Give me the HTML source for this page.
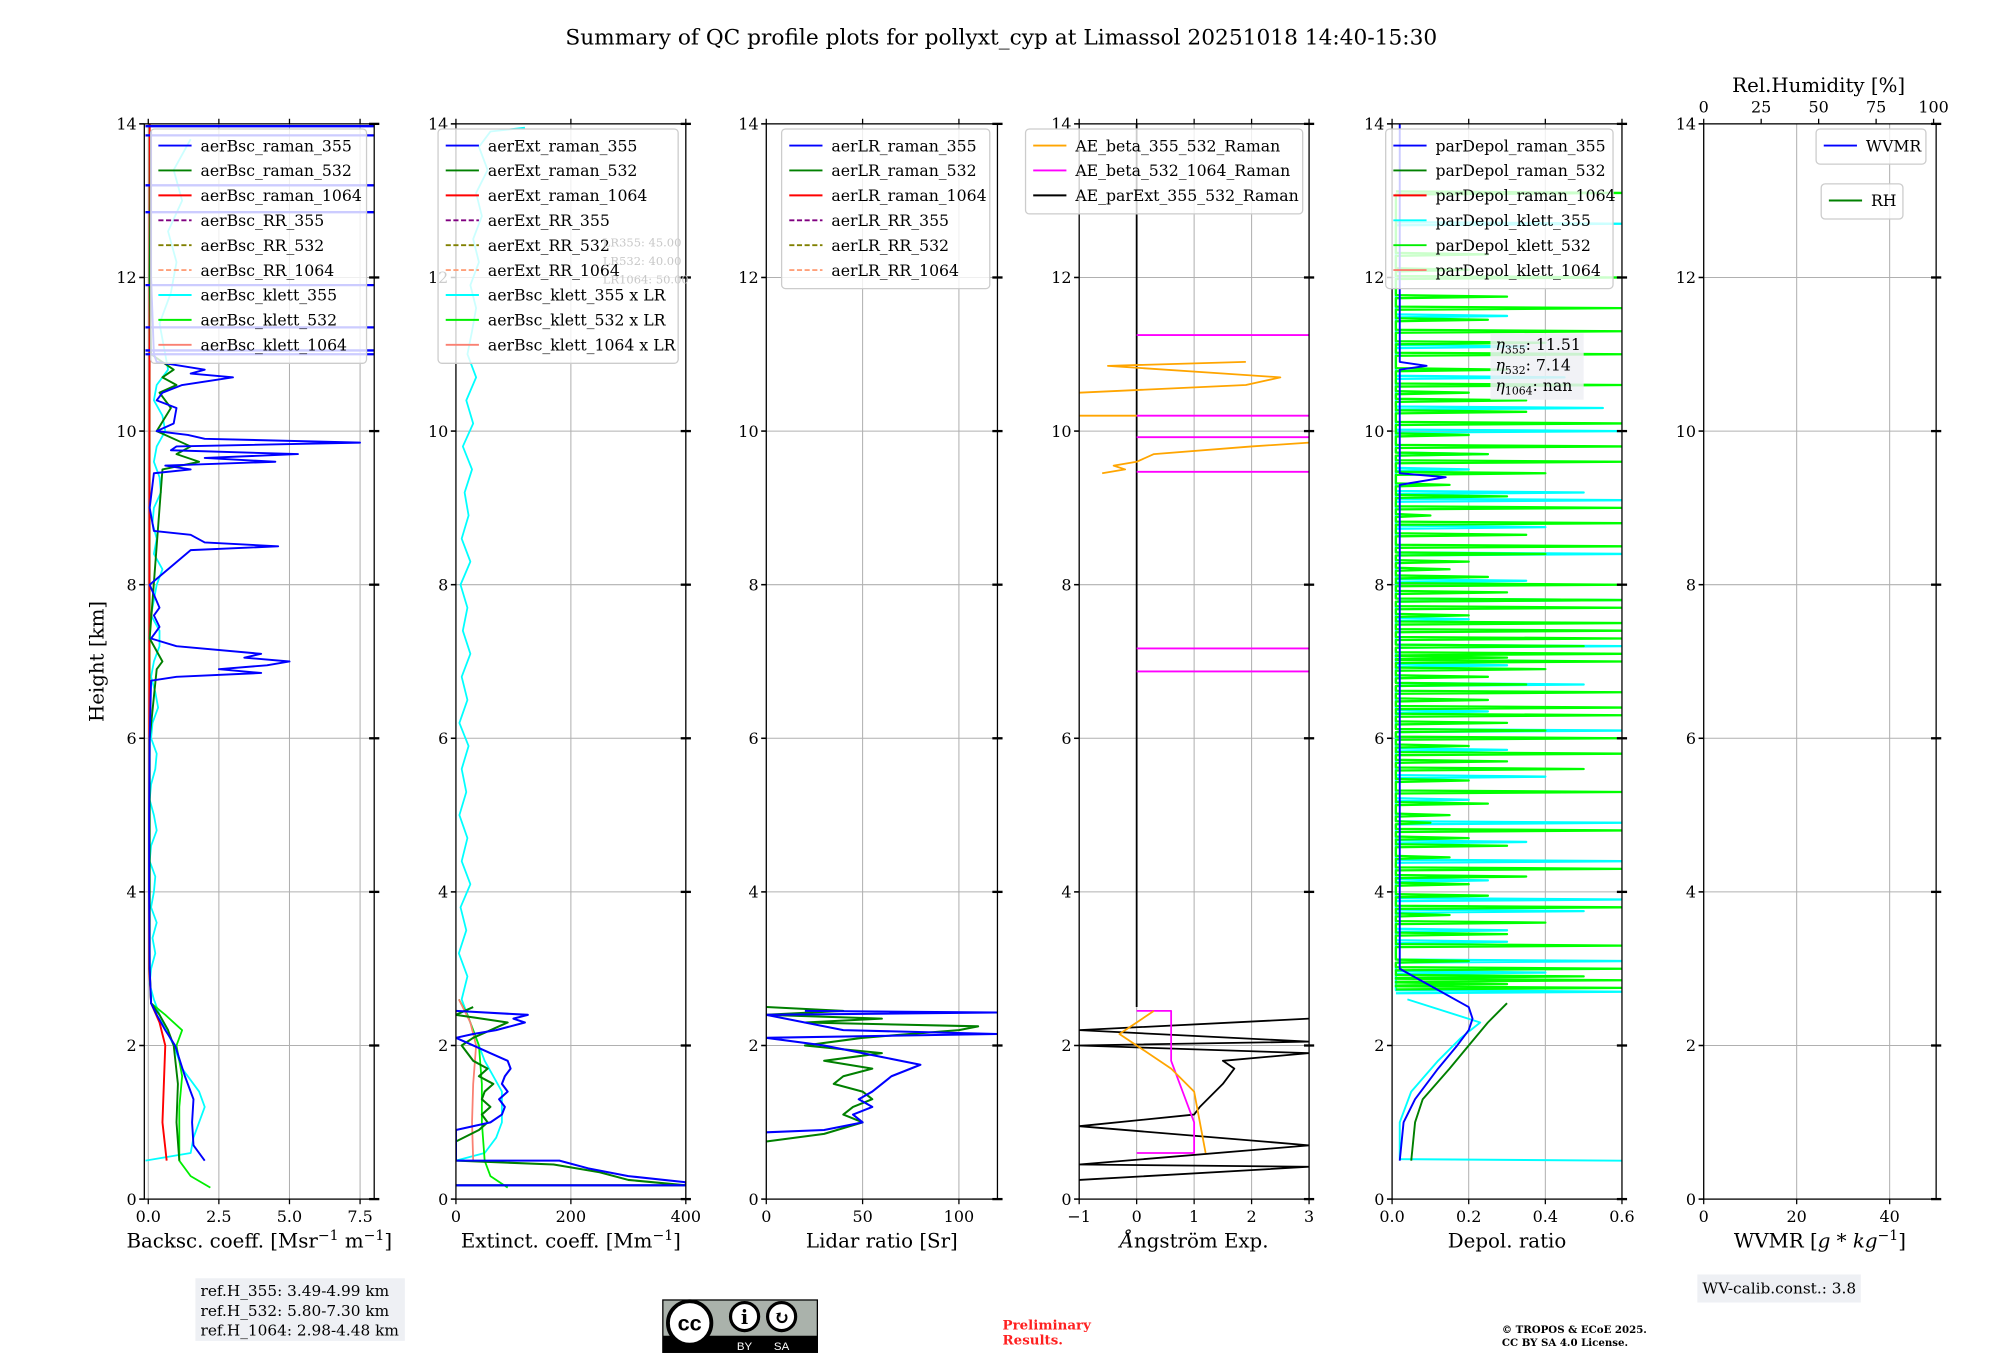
<!DOCTYPE html>
<html><head><meta charset="utf-8"><style>
html,body{margin:0;padding:0;background:#fff;}
svg{display:block;font-family:"DejaVu Serif","Liberation Serif",serif;}
</style></head><body>
<svg id="fig" width="2000" height="1360" viewBox="0 0 1566 1065" preserveAspectRatio="none" xmlns="http://www.w3.org/2000/svg">
<rect x="0" y="0" width="1566" height="1065" fill="#fff"/>
<text x="784" y="35" font-size="17" text-anchor="middle">Summary of QC profile plots for pollyxt_cyp at Limassol 20251018 14:40-15:30</text>
<g id="plots"></g>
<g id="overlay"></g>
</svg>
<script>
// ===== Data arrays =====
const heightTicks=[0,2,4,6,8,10,12,14];
// Panel 1: backscatter
const bscTicks=[0,2.5,5,7.5];
const bscTickLabels=["0.0","2.5","5.0","7.5"];
const bsc355H=[0.5,0.7,1.0,1.3,1.6,2.0,2.2,2.4,2.55,3,4,5,6,6.75,6.8,6.85,6.9,6.95,7.0,7.05,7.1,7.2,7.3,7.45,7.6,7.7,8,8.45,8.5,8.55,8.65,8.7,9,9.45,9.5,9.55,9.6,9.65,9.7,9.75,9.8,9.85,9.9,9.95,10.0,10.1,10.3,10.4,10.5,10.6,10.7,10.75,10.8,10.9,11,12,13,13.9];
const bsc355V=[2.0,1.6,1.55,1.6,1.3,0.95,0.6,0.3,0.1,0.05,0.03,0.03,0.05,0.1,1.0,4.0,2.5,4.2,5.0,3.4,4.0,1.0,0.1,0.4,0.2,0.4,0.05,1.5,4.6,2.0,1.5,0.2,0.05,0.2,1.5,0.6,4.5,2.0,5.3,0.8,1.0,7.5,2.0,1.4,0.3,0.9,1.0,0.3,0.5,1.2,3.0,1.5,2.0,0.3,0.2,0.1,0.1,0.1];
const bsc355Lines=[13.97,13.85,13.2,12.85,11.9,11.35,11.05,11.0];
const bsc532H=[0.5,1.0,1.5,2.0,2.2,2.4,2.55,3,6,6.9,7.0,7.3,9.5,9.6,9.7,9.8,10.0,10.3,10.5,10.6,10.7,10.8,11,12,13.9];
const bsc532V=[1.1,1.0,1.05,0.9,0.7,0.4,0.1,0.05,0.05,0.3,0.5,0.05,0.5,1.8,1.0,1.5,0.3,0.8,0.4,1.0,0.5,0.9,0.1,0.05,0.1];
const bsc1064H=[0.5,1.0,1.5,2.0,2.3,2.55,3,14];
const bsc1064V=[0.65,0.5,0.55,0.6,0.4,0.1,0.03,0.05];
const bscK355H=[0.5,0.6,0.8,1.2,1.4,1.7,2.0,2.3,2.6,2.8,3.0,3.2,3.4,3.6,3.8,4.0,4.2,4.4,4.6,4.8,5.0,5.2,5.4,5.6,5.8,6.0,6.2,6.4,6.6,6.8,7.0,7.2,7.4,7.6,7.8,8.0,8.2,8.4,8.6,8.8,9.0,9.2,9.4,9.6,9.8,10.0,10.2,10.4,10.6,10.8,11.0,11.4,11.8,12.2,12.6,13.0,13.4,13.8];
const bscK355V=[-0.1,1.5,1.6,2.0,1.8,1.2,0.9,0.5,0.2,0.05,0.1,0.25,0.15,0.3,0.1,0.2,0.25,0.05,0.1,0.3,0.2,0.05,0.1,0.25,0.3,0.1,0.15,0.35,0.25,0.1,0.2,0.4,0.4,0.1,0.2,0.3,0.5,0.2,0.3,0.15,0.2,0.45,0.4,0.2,0.3,0.6,0.5,0.2,0.3,0.7,0.6,0.4,0.8,1.0,0.7,1.2,0.9,1.5];
const bscK532H=[0.15,0.3,0.5,0.8,1.2,1.6,2.0,2.2,2.4,2.55,3,14];
const bscK532V=[2.2,1.5,1.1,1.1,1.1,1.2,1.0,1.2,0.6,0.1,0.05,0.05];
// Panel 2: extinction
const extTicks=[0,200,400];
const ext355H=[0.18,0.18,0.22,0.3,0.4,0.5,0.5,0.9,1.0,1.1,1.2,1.3,1.4,1.5,1.6,1.7,1.8,1.9,2.0,2.1,2.15,2.2,2.3,2.35,2.4,2.45];
const ext355V=[0,400,400,300,230,180,0,0,60,80,85,75,90,80,85,95,90,60,30,0,30,70,120,100,125,0];
const ext532H=[0.18,0.18,0.25,0.35,0.45,0.5,0.75,0.9,1.0,1.1,1.2,1.3,1.4,1.5,1.6,1.7,1.8,2.0,2.1,2.2,2.3,2.4,2.5];
const ext532V=[0,400,300,250,170,0,0,40,55,45,60,45,50,65,40,55,30,10,30,60,90,0,30];
const extK355H=[0.5,0.6,0.8,1.0,1.4,1.8,2.2,2.6,2.9,3.2,3.5,3.8,4.1,4.4,4.7,5.0,5.3,5.6,5.9,6.2,6.5,6.8,7.1,7.4,7.7,8.0,8.3,8.6,8.9,9.2,9.5,9.8,10.1,10.4,10.7,11.0,11.3,11.6,11.9,12.2,12.5,12.8,13.1,13.4,13.7,13.9,13.95];
const extK355V=[0,50,70,80,80,50,30,10,20,5,18,8,25,10,20,6,18,10,22,6,20,10,25,12,20,8,25,10,22,15,28,12,30,18,35,20,28,35,25,40,30,45,35,55,40,60,120];
const extK532H=[0.15,0.3,0.5,1.0,1.5,2.0,2.4,2.6];
const extK532V=[90,60,50,45,45,40,20,5];
const extK1064H=[0.5,1.0,1.5,2.0,2.3,2.6];
const extK1064V=[30,28,30,35,25,5];
// Panel 3: lidar ratio
const lrTicks=[0,50,100];
const lr355H=[0.87,0.9,1.0,1.1,1.2,1.3,1.4,1.5,1.6,1.75,1.85,2.0,2.1,2.15,2.2,2.3,2.4,2.43,2.45];
const lr355V=[0,30,50,45,55,48,55,60,65,80,60,30,0,120,40,20,0,120,20];
const lr532H=[0.75,0.85,1.0,1.1,1.2,1.3,1.4,1.5,1.6,1.7,1.8,1.9,2.0,2.1,2.2,2.25,2.3,2.35,2.4,2.45,2.5];
const lr532V=[0,30,50,40,45,55,50,35,40,55,30,60,20,50,100,110,20,60,0,40,0];
// Panel 4: Angstrom
const aeTicks=[-1,0,1,2,3];
const ae355H=[0.6,1.0,1.4,1.7,2.0,2.15,2.3,2.45];
const ae355V=[1.2,1.1,1.0,0.6,0.0,-0.3,0.0,0.3];
const ae355UpH=[9.45,9.5,9.55,9.6,9.7,9.8,9.85];
const ae355UpV=[-0.6,-0.2,-0.4,0,0.3,2.0,3.0];
const ae355Up2H=[10.5,10.6,10.7,10.75,10.85,10.9];
const ae355Up2V=[-1,1.9,2.5,1.5,-0.5,1.9];
const ae532H=[0.6,0.6,1.0,1.4,1.8,2.45,2.45];
const ae532V=[0,1.0,1.0,0.8,0.6,0.6,0];
const ae532Lines=[6.87,7.17,9.47,9.92,10.2,11.25];
const aeExtH=[0.25,0.42,0.45,0.7,0.95,1.1,1.2,1.5,1.7,1.8,1.9,2.0,2.05,2.2,2.35];
const aeExtV=[-1,3,-1,3,-1,1,1.1,1.5,1.7,1.5,3,-1,3,-1,3];
// Panel 5: depolarization
const depTicks=[0,0.2,0.4,0.6];
const depTickLabels=["0.0","0.2","0.4","0.6"];
const dep355H=[0.5,1.0,1.3,1.7,2.0,2.2,2.35,2.5,3,6,9.3,9.4,9.45,10.8,10.85,10.9,12,14];
const dep355V=[0.02,0.03,0.06,0.12,0.17,0.2,0.21,0.2,0.02,0.02,0.02,0.14,0.02,0.02,0.09,0.02,0.02,0.02];
const dep532H=[0.5,1.0,1.3,1.7,2.0,2.3,2.55];
const dep532V=[0.05,0.06,0.08,0.15,0.2,0.25,0.3];
const depK355H=[0.5,0.52,0.55,1.0,1.4,1.8,2.1,2.3,2.6];
const depK355V=[0.6,0.02,0.02,0.02,0.05,0.12,0.18,0.23,0.04];
const spikeGreenH=[2.75,2.8,2.85,2.9,3.0,3.1,3.3,3.45,3.6,3.7,3.8,3.95,4.1,4.2,4.3,4.45,4.6,4.7,4.8,4.9,5.0,5.15,5.3,5.45,5.6,5.7,5.8,5.9,6.0,6.1,6.2,6.3,6.4,6.5,6.6,6.7,6.8,6.9,7.0,7.05,7.1,7.2,7.3,7.4,7.5,7.6,7.7,7.8,7.9,8.0,8.1,8.2,8.3,8.4,8.5,8.65,8.8,8.9,9.0,9.15,9.3,9.45,9.6,9.7,9.8,9.95,10.1,10.25,10.4,10.5,10.6,10.8,11.0,11.15,11.3,11.45,11.6,11.75,12.0,12.1,12.3,13.1];
const spikeGreenV=[0.6,0.3,0.6,0.5,0.6,0.2,0.6,0.3,0.4,0.15,0.6,0.25,0.2,0.35,0.6,0.15,0.3,0.2,0.6,0.1,0.15,0.25,0.6,0.2,0.5,0.3,0.6,0.2,0.6,0.4,0.3,0.6,0.6,0.25,0.6,0.35,0.25,0.4,0.6,0.3,0.6,0.5,0.6,0.6,0.6,0.2,0.6,0.6,0.3,0.6,0.25,0.15,0.2,0.4,0.6,0.35,0.6,0.1,0.6,0.3,0.15,0.4,0.6,0.25,0.6,0.2,0.6,0.35,0.35,0.2,0.6,0.3,0.6,0.4,0.6,0.25,0.6,0.3,0.6,0.2,0.25,0.6];
const spikeCyanH=[2.7,2.95,3.1,3.35,3.5,3.75,3.9,4.15,4.4,4.65,4.9,5.2,5.5,5.85,6.1,6.35,6.7,6.95,7.2,7.55,7.8,8.05,8.4,8.75,9.1,9.2,9.5,9.7,10.0,10.3,10.7,11.1,11.5,12.7];
const spikeCyanV=[0.6,0.4,0.6,0.3,0.3,0.5,0.6,0.25,0.6,0.35,0.6,0.2,0.4,0.3,0.6,0.25,0.5,0.3,0.6,0.2,0.6,0.35,0.6,0.4,0.6,0.5,0.2,0.25,0.6,0.55,0.45,0.35,0.3,0.6];
// Panel 6
const wvTicks=[0,20,40];
const rhTicks=[0,25,50,75,100];

// ===== Layout =====
const Y0=939,Y14=97;
function yH(h){return Y0-(Y0-Y14)*h/14;}
const panels=[
 {x0:113,x1:293,min:-0.14,max:8.0},
 {x0:357,x1:537,min:0,max:400},
 {x0:600,x1:781,min:0,max:120},
 {x0:845,x1:1025,min:-1,max:3},
 {x0:1090,x1:1270,min:0,max:0.6},
 {x0:1334,x1:1516,min:0,max:50}
];
function xf(p){return v=>p.x0+(p.x1-p.x0)*(v-p.min)/(p.max-p.min);}
const NS="http://www.w3.org/2000/svg";
const root=document.getElementById('plots');
function el(tag,attrs,parent){const e=document.createElementNS(NS,tag);for(const k in attrs)e.setAttribute(k,attrs[k]);(parent||root).appendChild(e);return e;}
function txt(s,attrs,parent){const e=el('text',attrs,parent);e.textContent=s;return e;}

function panel(i,ticks,labels,xlabel){
  const p=panels[i],X=xf(p);
  const g=el('g',{});
  
  
  ticks.forEach(t=>{const l=el('line',{x1:X(t),x2:X(t),y1:Y14,y2:Y0,stroke:'#b0b0b0','stroke-width':0.8},g);});
  heightTicks.forEach(h=>{const l=el('line',{x1:p.x0,x2:p.x1,y1:yH(h),y2:yH(h),stroke:'#b0b0b0','stroke-width':0.8},g);});
  const clip=el('clipPath',{id:'c'+i},g);
  el('rect',{x:p.x0,y:Y14,width:p.x1-p.x0,height:Y0-Y14},clip);
  const data=el('g',{'clip-path':'url(#c'+i+')'},g);
  
  
  const fr=el('rect',{x:p.x0,y:Y14,width:p.x1-p.x0,height:Y0-Y14,fill:'none',stroke:'#000','stroke-width':1},g);
  
  
  heightTicks.forEach(h=>{
    el('line',{x1:p.x0-4,x2:p.x0,y1:yH(h),y2:yH(h),stroke:'#000','stroke-width':1.2},g);
    el('line',{x1:p.x1-4,x2:p.x1+4,y1:yH(h),y2:yH(h),stroke:'#000','stroke-width':1.8},g);
    const t=txt(String(h),{x:p.x0-6,y:yH(h)+4.5,'font-size':12.5,'text-anchor':'end'},g);
    
    
  });
  ticks.forEach((t,k)=>{
    el('line',{x1:X(t),x2:X(t),y1:Y0,y2:Y0+4,stroke:'#000','stroke-width':1},g);
    if(i!==5) el('line',{x1:X(t),x2:X(t),y1:Y14-4,y2:Y14,stroke:'#000','stroke-width':1},g);
    const tl=txt(labels[k],{x:X(t),y:Y0+18,'font-size':12.5,'text-anchor':'middle'},g);
    
    
  });
  const xl=txt('',{x:(p.x0+p.x1)/2,y:977,'font-size':15.5,'text-anchor':'middle'},g);
  xl.innerHTML=xlabel;
  
  
  return {X,data};
}
function line(P,H,V,color,w,name,op){
  const pts=H.map((h,k)=>P.X(V[k]).toFixed(1)+','+yH(h).toFixed(1)).join(' ');
  const l=el('polyline',{points:pts,fill:'none',stroke:color,'stroke-width':w||1.5,'stroke-opacity':op||1,'stroke-linejoin':'round'},P.data);
  
  
}
function hlines(P,H,v0,v1,color,w,name){
  H.forEach(h=>{const l=el('line',{x1:P.X(v0),x2:P.X(v1),y1:yH(h),y2:yH(h),stroke:color,'stroke-width':w||1.5},P.data);
  
  });
}
function spikes(P,H,V,base,color,name){
  const hs=[],vs=[];
  H.forEach((h,k)=>{hs.push(h-0.02,h,h+0.02);vs.push(base,V[k],base);});
  line(P,hs,vs,color,1.8,name);
}

const P1=panel(0,bscTicks,bscTickLabels,'Backsc. coeff. [Msr<tspan dy="-6" font-size="11">−1</tspan><tspan dy="6"> m</tspan><tspan dy="-6" font-size="11">−1</tspan><tspan dy="6">]</tspan>');
line(P1,bscK355H,bscK355V,'#00ffff',1.4,'aerBsc-klett-355');
line(P1,bscK532H,bscK532V,'#00ee00',1.4,'aerBsc-klett-532');
line(P1,bsc1064H,bsc1064V,'#ff0000',1.5,'aerBsc-raman-1064');
line(P1,bsc532H,bsc532V,'#008000',1.5,'aerBsc-raman-532');
line(P1,bsc355H,bsc355V,'#0000ff',1.5,'aerBsc-raman-355');
hlines(P1,bsc355Lines,-0.1,8.0,'#0000ff',1.8,'aerBsc-raman-355-line');

const P2=panel(1,extTicks,extTicks.map(String),'Extinct. coeff. [Mm<tspan dy="-6" font-size="11">−1</tspan><tspan dy="6">]</tspan>');
line(P2,extK355H,extK355V,'#00ffff',1.4,'aerBsc-klett-355-x-lr');
line(P2,extK532H,extK532V,'#00ee00',1.4,'aerBsc-klett-532-x-lr');
line(P2,extK1064H,extK1064V,'#fa8072',1.4,'aerBsc-klett-1064-x-lr');
line(P2,ext532H,ext532V,'#008000',1.6,'aerExt-raman-532');
line(P2,ext355H,ext355V,'#0000ff',1.6,'aerExt-raman-355');

const P3=panel(2,lrTicks,lrTicks.map(String),'Lidar ratio [Sr]');
line(P3,lr532H,lr532V,'#008000',1.6,'aerLR-raman-532');
line(P3,lr355H,lr355V,'#0000ff',1.6,'aerLR-raman-355');

const P4=panel(3,aeTicks,['−1','0','1','2','3'],'<tspan font-style="italic">Å</tspan>ngström Exp.');
line(P4,[2.5,14],[0,0],'#000',1.4,'ae-parExt-vertical');
line(P4,aeExtH,aeExtV,'#000',1.4,'AE-parExt-355-532-raman');
line(P4,ae532H,ae532V,'#ff00ff',1.4,'AE-beta-532-1064-raman');
hlines(P4,ae532Lines,0,3,'#ff00ff',1.5,'AE-beta-532-1064-line');
line(P4,ae355H,ae355V,'#ffa500',1.4,'AE-beta-355-532-raman');
line(P4,ae355UpH,ae355UpV,'#ffa500',1.4,'AE-beta-355-532-raman-upper');
line(P4,ae355Up2H,ae355Up2V,'#ffa500',1.4,'AE-beta-355-532-raman-upper2');
hlines(P4,[10.2],-1,0,'#ffa500',1.5,'AE-beta-355-532-line');

const P5=panel(4,depTicks,depTickLabels,'Depol. ratio');
spikes(P5,spikeCyanH,spikeCyanV,0.01,'#00ffff','parDepol-klett-355-spikes');
spikes(P5,spikeGreenH,spikeGreenV,0.01,'#00ff00','parDepol-klett-532-spikes');
line(P5,depK355H,depK355V,'#00ffff',1.5,'parDepol-klett-355');
line(P5,dep532H,dep532V,'#008000',1.5,'parDepol-raman-532');
line(P5,dep355H,dep355V,'#0000ff',1.5,'parDepol-raman-355');

const P6=panel(5,wvTicks,wvTicks.map(String),'WVMR [<tspan font-style="italic">g</tspan> * <tspan font-style="italic">kg</tspan><tspan dy="-6" font-size="11">−1</tspan><tspan dy="6">]</tspan>');
rhTicks.forEach(t=>{const x=1334+(1514-1334)*t/100;
  el('line',{x1:x,x2:x,y1:Y14-4,y2:Y14,stroke:'#000','stroke-width':1});
  const tl=txt(String(t),{x:x,y:Y14-9,'font-size':12.5,'text-anchor':'middle'});
  
  });
const rht=txt('Rel.Humidity [%]',{x:1424,y:72,'font-size':15.5,'text-anchor':'middle'});


const yt=txt('Height [km]',{x:81,y:518,'font-size':15.5,'text-anchor':'middle',transform:'rotate(-90 81 518)'});



// ===== Legends =====
function legend(x,y,w,entries,name){
  const g=el('g',{});
  
  
  el('rect',{x:x,y:y,width:w,height:entries.length*19.5+8,rx:3,fill:'#fff','fill-opacity':0.8,stroke:'#ccc','stroke-width':1},g);
  entries.forEach((e,k)=>{const yy=y+13+k*19.5;
    const l=el('line',{x1:x+6,x2:x+32,y1:yy,y2:yy,stroke:e[1],'stroke-width':1.5},g);
    if(e[2])l.setAttribute('stroke-dasharray','4,2');
    const t=txt(e[0],{x:x+39,y:yy+4.5,'font-size':12.3},g);
    
    
  });
}
legend(118,101,169,[['aerBsc_raman_355','#0000ff'],['aerBsc_raman_532','#008000'],['aerBsc_raman_1064','#ff0000'],['aerBsc_RR_355','#800080',1],['aerBsc_RR_532','#808000',1],['aerBsc_RR_1064','#ffa07a',1],['aerBsc_klett_355','#00ffff'],['aerBsc_klett_532','#00ee00'],['aerBsc_klett_1064','#fa8072']],'legend-backscatter');
legend(343,101,188,[['aerExt_raman_355','#0000ff'],['aerExt_raman_532','#008000'],['aerExt_raman_1064','#ff0000'],['aerExt_RR_355','#800080',1],['aerExt_RR_532','#808000',1],['aerExt_RR_1064','#ffa07a',1],['aerBsc_klett_355 x LR','#00ffff'],['aerBsc_klett_532 x LR','#00ee00'],['aerBsc_klett_1064 x LR','#fa8072']],'legend-extinction');
legend(612,101,163,[['aerLR_raman_355','#0000ff'],['aerLR_raman_532','#008000'],['aerLR_raman_1064','#ff0000'],['aerLR_RR_355','#800080',1],['aerLR_RR_532','#808000',1],['aerLR_RR_1064','#ffa07a',1]],'legend-lidar-ratio');
legend(803,101,217,[['AE_beta_355_532_Raman','#ffa500'],['AE_beta_532_1064_Raman','#ff00ff'],['AE_parExt_355_532_Raman','#000']],'legend-angstrom');
legend(1085,101,178,[['parDepol_raman_355','#0000ff'],['parDepol_raman_532','#008000'],['parDepol_raman_1064','#ff0000'],['parDepol_klett_355','#00ffff'],['parDepol_klett_532','#00ee00'],['parDepol_klett_1064','#fa8072']],'legend-depol');
legend(1422,101,86,[['WVMR','#0000ff']],'legend-wvmr');
legend(1426,144,64,[['RH','#008000']],'legend-rh');

// ===== Annotations =====
const ov=document.getElementById('overlay');
['LR355: 45.00','LR532: 40.00','LR1064: 50.00'].forEach((s,k)=>{const t=txt(s,{x:472,y:193+k*14.5,'font-size':9,fill:'#c8c8c8'},ov);});
const eb=el('rect',{x:1167,y:261,width:73,height:52,fill:'#eef0f4','fill-opacity':0.85},ov);


[['355','11.51'],['532','7.14'],['1064','nan']].forEach((e,k)=>{const t=txt('',{x:1171,y:274+k*16,'font-size':12.3},ov);t.innerHTML='<tspan font-style="italic">η</tspan><tspan font-size="8.5" dy="3">'+e[0]+'</tspan><tspan dy="-3">: '+e[1]+'</tspan>';});
const rb=el('rect',{x:153,y:1001,width:164,height:49,fill:'#eef0f4'},ov);


['ref.H_355: 3.49-4.99 km','ref.H_532: 5.80-7.30 km','ref.H_1064: 2.98-4.48 km'].forEach((s,k)=>{const t=txt(s,{x:157,y:1015+k*15.5,'font-size':12},ov);});
const wb=el('rect',{x:1329,y:998,width:128,height:22,fill:'#eef0f4'},ov);


const wt=txt('WV-calib.const.: 3.8',{x:1333,y:1013,'font-size':12},ov);


const cc=el('g',{},ov);


el('rect',{x:519,y:1018,width:121,height:41,fill:'#aab2ab',stroke:'#000','stroke-width':1},cc);
el('rect',{x:519,y:1046,width:121,height:13,fill:'#000'},cc);
el('circle',{cx:540,cy:1036,r:17,fill:'#fff',stroke:'#000','stroke-width':3},cc);
txt('cc',{x:540,y:1042,'font-size':17,'font-weight':'bold','text-anchor':'middle','font-family':'Liberation Sans, sans-serif'},cc);
el('circle',{cx:583,cy:1031,r:11,fill:'#fff',stroke:'#000','stroke-width':2.5},cc);
el('circle',{cx:612,cy:1031,r:11,fill:'#fff',stroke:'#000','stroke-width':2.5},cc);
txt('i',{x:583,y:1037,'font-size':15,'font-weight':'bold','text-anchor':'middle'},cc);
txt('↻',{x:612,y:1037,'font-size':15,'font-weight':'bold','text-anchor':'middle'},cc);
txt('BY',{x:583,y:1057,'font-size':9,fill:'#fff','text-anchor':'middle','font-family':'Liberation Sans, sans-serif'},cc);
txt('SA',{x:612,y:1057,'font-size':9,fill:'#fff','text-anchor':'middle','font-family':'Liberation Sans, sans-serif'},cc);
['Preliminary','Results.'].forEach((s,k)=>{const t=txt(s,{x:785,y:1041+k*12,'font-size':10.5,'font-weight':'bold',fill:'#ff2020'},ov);});
['© TROPOS & ECoE 2025.','CC BY SA 4.0 License.'].forEach((s,k)=>{const t=txt(s,{x:1176,y:1044+k*10,'font-size':8,'font-weight':'bold'},ov);});
</script>
</body></html>
